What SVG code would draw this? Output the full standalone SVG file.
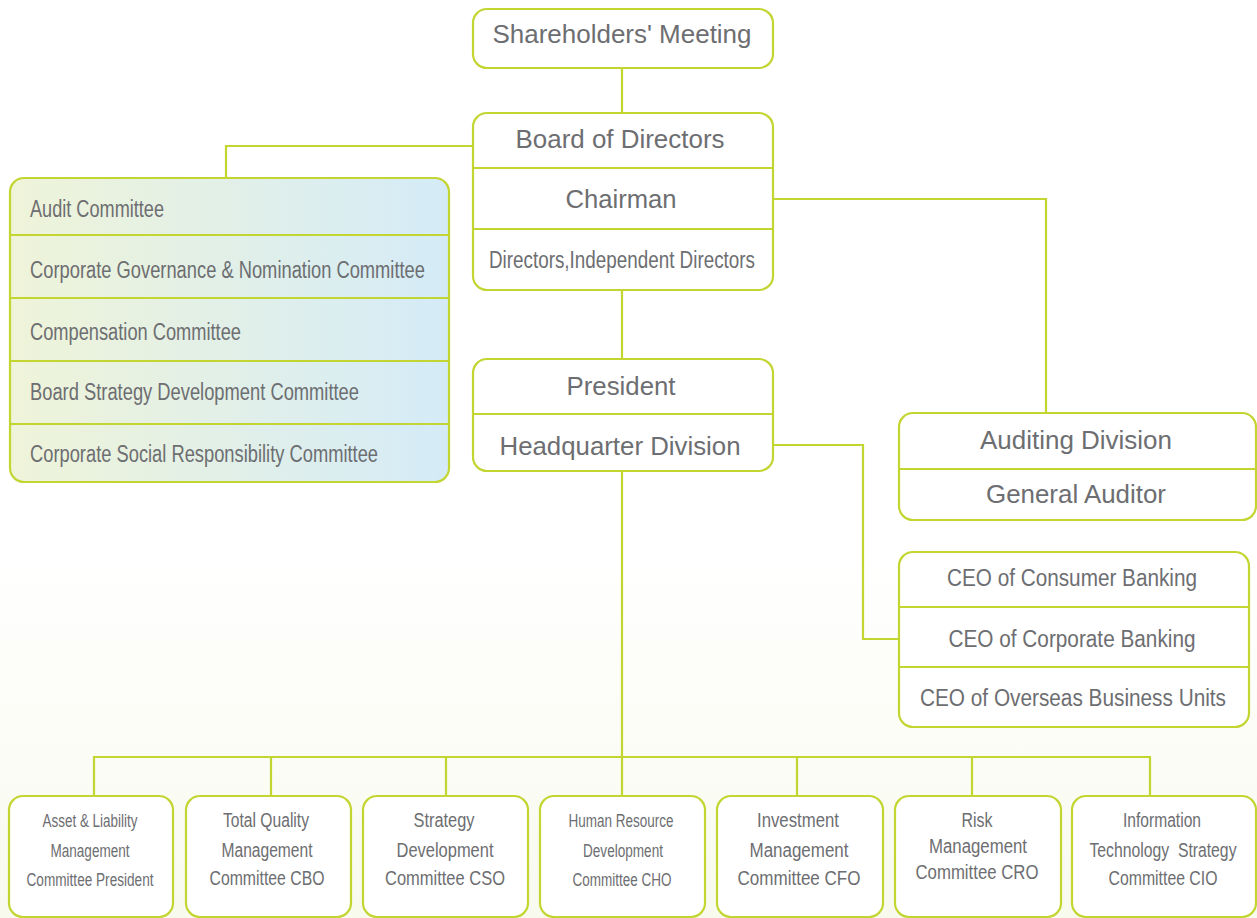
<svg xmlns="http://www.w3.org/2000/svg" width="1257" height="918" viewBox="0 0 1257 918">
<defs>
<linearGradient id="bg" x1="0" y1="0" x2="0" y2="1">
<stop offset="0" stop-color="#ffffff"/>
<stop offset="0.6" stop-color="#ffffff"/>
<stop offset="1" stop-color="#f8faee"/>
</linearGradient>
<linearGradient id="cg" x1="0" y1="0" x2="1" y2="0">
<stop offset="0" stop-color="#eff4d9"/>
<stop offset="1" stop-color="#d4ebf7"/>
</linearGradient>
<style>
.b{fill:#fff;stroke:#c3d531;stroke-width:2.2}
.c{fill:none;stroke:#c3d531;stroke-width:2.2}
.d{stroke:#c3d531;stroke-width:2.2}
text{font-family:"Liberation Sans",Arial,sans-serif;fill:#6d6e71}
.t{font-size:25px;text-anchor:middle}
.n{font-size:23px}
.m{font-size:23px;text-anchor:middle}
.s{font-size:20px;text-anchor:middle}
.x{font-size:17.5px}
</style>
</defs>
<rect x="0" y="0" width="1257" height="918" fill="url(#bg)"/>

<g id="connectors">
<path class="c" d="M622 68V113"/>
<path class="c" d="M473 146H226V178"/>
<path class="c" d="M773 199H1046V413"/>
<path class="c" d="M622 290V359"/>
<path class="c" d="M773 445H863V639H899"/>
<path class="c" d="M622 471V757"/>
<path class="c" d="M94 796V757H1150V796"/>
<path class="c" d="M271 757V796M446 757V796M622 757V796M797 757V796M972 757V796"/>
</g>

<g id="shareholders">
<rect class="b" x="473" y="9" width="300" height="59" rx="14"/>
<text class="t" x="622" y="43" textLength="259" lengthAdjust="spacingAndGlyphs">Shareholders' Meeting</text>
</g>

<g id="board">
<rect class="b" x="473" y="113" width="300" height="177" rx="14"/>
<line class="d" x1="473" y1="168" x2="773" y2="168"/>
<line class="d" x1="473" y1="229" x2="773" y2="229"/>
<text class="t" x="620" y="148" textLength="209" lengthAdjust="spacingAndGlyphs">Board of Directors</text>
<text class="t" x="621" y="208" textLength="111" lengthAdjust="spacingAndGlyphs">Chairman</text>
<text class="m" x="622" y="268" font-size="22" textLength="266" lengthAdjust="spacingAndGlyphs">Directors,Independent Directors</text>
</g>

<g id="committees">
<rect x="10" y="178" width="439" height="304" rx="14" fill="url(#cg)" stroke="#c3d531" stroke-width="2.2"/>
<line class="d" x1="10" y1="235" x2="449" y2="235"/>
<line class="d" x1="10" y1="298" x2="449" y2="298"/>
<line class="d" x1="10" y1="361" x2="449" y2="361"/>
<line class="d" x1="10" y1="424" x2="449" y2="424"/>
<text class="n" x="30" y="217" textLength="134" lengthAdjust="spacingAndGlyphs">Audit Committee</text>
<text class="n" x="30" y="278" textLength="395" lengthAdjust="spacingAndGlyphs">Corporate Governance &amp; Nomination Committee</text>
<text class="n" x="30" y="340" textLength="211" lengthAdjust="spacingAndGlyphs">Compensation Committee</text>
<text class="n" x="30" y="400" textLength="329" lengthAdjust="spacingAndGlyphs">Board Strategy Development Committee</text>
<text class="n" x="30" y="462" textLength="348" lengthAdjust="spacingAndGlyphs">Corporate Social Responsibility Committee</text>
</g>

<g id="president">
<rect class="b" x="473" y="359" width="300" height="112" rx="14"/>
<line class="d" x1="473" y1="414" x2="773" y2="414"/>
<text class="t" x="621" y="395" textLength="109" lengthAdjust="spacingAndGlyphs">President</text>
<text class="t" x="620" y="455" textLength="241" lengthAdjust="spacingAndGlyphs">Headquarter Division</text>
</g>

<g id="auditing">
<rect class="b" x="899" y="413" width="357" height="107" rx="14"/>
<line class="d" x1="899" y1="469" x2="1256" y2="469"/>
<text class="t" x="1076" y="449" textLength="192" lengthAdjust="spacingAndGlyphs">Auditing Division</text>
<text class="t" x="1076" y="503" textLength="180" lengthAdjust="spacingAndGlyphs">General Auditor</text>
</g>

<g id="ceos">
<rect class="b" x="899" y="552" width="350" height="175" rx="14"/>
<line class="d" x1="899" y1="607" x2="1249" y2="607"/>
<line class="d" x1="899" y1="667" x2="1249" y2="667"/>
<text class="m" x="1072" y="586" textLength="250" lengthAdjust="spacingAndGlyphs">CEO of Consumer Banking</text>
<text class="m" x="1072" y="647" textLength="247" lengthAdjust="spacingAndGlyphs">CEO of Corporate Banking</text>
<text class="m" x="1073" y="706" textLength="306" lengthAdjust="spacingAndGlyphs">CEO of Overseas Business Units</text>
</g>

<g id="alm">
<rect class="b" x="9" y="796" width="164" height="121" rx="14"/>
<text class="s x" x="90" y="827" textLength="95" lengthAdjust="spacingAndGlyphs">Asset &amp; Liability</text>
<text class="s x" x="90" y="857" textLength="79" lengthAdjust="spacingAndGlyphs">Management</text>
<text class="s x" x="90" y="886" textLength="127" lengthAdjust="spacingAndGlyphs">Committee President</text>
</g>

<g id="tqm">
<rect class="b" x="186" y="796" width="165" height="121" rx="14"/>
<text class="s" x="266" y="827" textLength="86" lengthAdjust="spacingAndGlyphs">Total Quality</text>
<text class="s" x="267" y="857" textLength="91" lengthAdjust="spacingAndGlyphs">Management</text>
<text class="s" x="267" y="885" textLength="115" lengthAdjust="spacingAndGlyphs">Committee CBO</text>
</g>

<g id="sdc">
<rect class="b" x="363" y="796" width="165" height="121" rx="14"/>
<text class="s" x="444" y="827" textLength="61" lengthAdjust="spacingAndGlyphs">Strategy</text>
<text class="s" x="445" y="857" textLength="97" lengthAdjust="spacingAndGlyphs">Development</text>
<text class="s" x="445" y="885" textLength="120" lengthAdjust="spacingAndGlyphs">Committee CSO</text>
</g>

<g id="hrd">
<rect class="b" x="540" y="796" width="165" height="121" rx="14"/>
<text class="s x" x="621" y="827" textLength="105" lengthAdjust="spacingAndGlyphs">Human Resource</text>
<text class="s x" x="623" y="857" textLength="80" lengthAdjust="spacingAndGlyphs">Development</text>
<text class="s x" x="622" y="886" textLength="99" lengthAdjust="spacingAndGlyphs">Committee CHO</text>
</g>

<g id="imc">
<rect class="b" x="717" y="796" width="166" height="121" rx="14"/>
<text class="s" x="798" y="827" textLength="82" lengthAdjust="spacingAndGlyphs">Investment</text>
<text class="s" x="799" y="857" textLength="99" lengthAdjust="spacingAndGlyphs">Management</text>
<text class="s" x="799" y="885" textLength="123" lengthAdjust="spacingAndGlyphs">Committee CFO</text>
</g>

<g id="rmc">
<rect class="b" x="895" y="796" width="166" height="121" rx="14"/>
<text class="s" x="977" y="827" textLength="31" lengthAdjust="spacingAndGlyphs">Risk</text>
<text class="s" x="978" y="853" textLength="98" lengthAdjust="spacingAndGlyphs">Management</text>
<text class="s" x="977" y="879" textLength="123" lengthAdjust="spacingAndGlyphs">Committee CRO</text>
</g>

<g id="itsc">
<rect class="b" x="1072" y="796" width="184" height="121" rx="14"/>
<text class="s" x="1162" y="827" textLength="78" lengthAdjust="spacingAndGlyphs">Information</text>
<text class="s" x="1163" y="857" textLength="147" lengthAdjust="spacingAndGlyphs" xml:space="preserve">Technology  Strategy</text>
<text class="s" x="1163" y="885" textLength="109" lengthAdjust="spacingAndGlyphs">Committee CIO</text>
</g>
</svg>
